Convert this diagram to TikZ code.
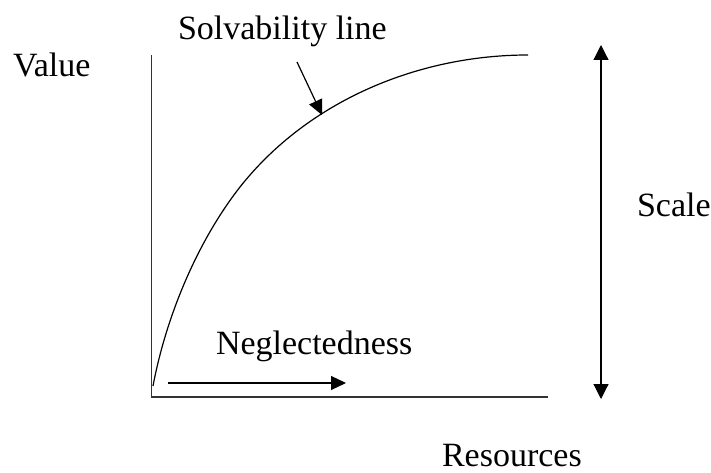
\documentclass[tikz,border=0pt]{standalone}
\usepackage{fontspec}
\setmainfont{Liberation Serif}
\usetikzlibrary{arrows.meta}
\begin{document}
\begin{tikzpicture}[x=1bp,y=-1bp,
  lbl/.style={anchor=base west,inner sep=0pt,outer sep=0pt,font=\fontsize{34bp}{40bp}\selectfont},
  axis/.style={line width=1.2bp,draw=black!80},
  curveline/.style={line width=1.2bp,draw=black},
  arr/.style={line width=1.2bp,-{Triangle[length=15bp,width=14bp]}},
  darr/.style={line width=1.2bp,{Triangle[length=15bp,width=15bp]}-{Triangle[length=15bp,width=15bp]}}]
\useasboundingbox (0,0) rectangle (711,473);
% labels
\node[lbl] (value) at (13,77) {Value};
\node[lbl] (solv) at (178,40) {Solvability line};
\node[lbl] (scale) at (637,217) {Scale};
\node[lbl] (negl) at (216,355) {Neglectedness};
\node[lbl] (res) at (442,466) {Resources};
% axes
\coordinate (ytop) at (151.5,55);
\coordinate (origin) at (151.5,397);
\coordinate (xend) at (548,397);
\draw[axis] (ytop) -- (origin) -- (xend);
% curve
\coordinate (c0) at (153,386);
\coordinate (cm) at (240,187);
\coordinate (c9) at (528,55);
\draw[curveline] (c0) .. controls (166,317) and (197,242) .. (cm)
                      .. controls (308,101) and (418,55) .. (c9);
% solvability arrow
\coordinate (sa) at (297,62);
\coordinate (sb) at (322,115);
\draw[arr] (sa) -- (sb);
% neglectedness arrow
\coordinate (na) at (168,383);
\coordinate (nb) at (346,383);
\draw[arr] (na) -- (nb);
% scale arrow
\coordinate (st) at (601,45);
\coordinate (sbt) at (601,399);
\draw[darr] (st) -- (sbt);
\end{tikzpicture}
\end{document}
